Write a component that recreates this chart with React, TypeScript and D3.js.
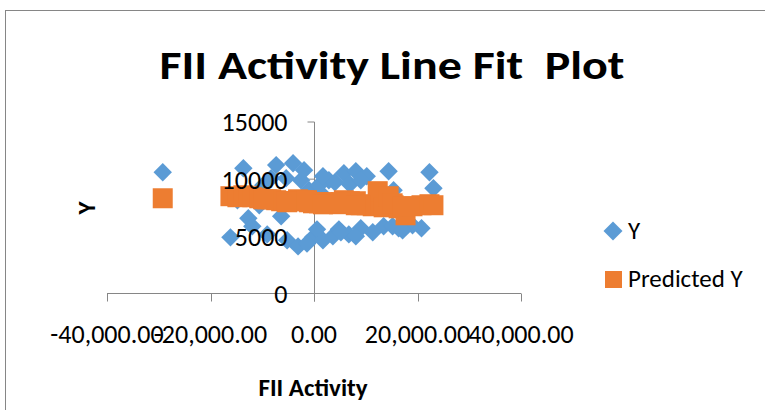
import { useEffect, useRef } from "react";
import * as d3 from "d3";

// FII activity (x) per observation
const FII = [
  -29230, -16150, -14800, -13650, -12690, -11920, -10580, -9040, -7310, -6350,
  -5190, -4040, -3080, -1920, -960, -190, 580, 1730, 2880, 3650,
  4810, 5770, 6730, 8080, 9040, 10190, 11350, 12310, 13460, 14420,
  15380, 16350, 17690, 19040, 20770, 22310, 23080, -8270, -2500, 960,
  -9810, -5380, 1730, 4040, 6920, 9040, -1350, 1730, 5190, 8080,
  15190, 17120,
];

// observed Y
const Y_VALUES = [
  10610, 4910, 8160, 10960, 6580, 5880, 7720, 5170, 11230, 6750,
  4650, 11400, 4120, 10790, 9030, 4910, 5610, 8600, 9910, 5000,
  5610, 10520, 5170, 10700, 5700, 10260, 5350, 8420, 5880, 10700,
  9030, 5700, 7100, 5960, 5700, 10610, 9210, 10090, 9910, 9470,
  9470, 10090, 10260, 9730, 9560, 9910, 4380, 4650, 5350, 5000,
  5880, 5520,
];

// predicted Y from the fit
const PREDICTED = [
  8330, 8510, 8420, 8590, 8510, 8420, 8330, 8240, 8160, 8070,
  7980, 8070, 8240, 8160, 7980, 7890, 7980, 7890, 7980, 7890,
  7810, 8160, 7980, 8070, 7810, 7720, 7630, 8950, 7540, 8510,
  7720, 7450, 6840, 7630, 7720, 7810, 7720, 8240, 8070, 7890,
  8240, 8070, 7980, 7890, 8070, 7720, 8160, 7800, 7980, 7720,
  7890, 7630,
];

const X_TICKS = [-40000, -20000, 0, 20000, 40000];
const Y_TICKS = [0, 5000, 10000, 15000];

const BLUE = "#5B9BD5";
const ORANGE = "#ED7D31";
const AXIS = "#868686";
const FONT = "Carlito, Lato, sans-serif";

const App = () => {
  const svgRef = useRef<SVGSVGElement>(null);

  useEffect(() => {
    if (!svgRef.current) return;
    const width = 765;
    const height = 410;

    const svg = d3.select(svgRef.current);
    svg.selectAll("*").remove();

    svg.append("rect").attr("width", width).attr("height", height).attr("fill", "#fff");

    // moldura do gráfico
    svg.append("rect")
      .attr("x", 5.5).attr("y", 10.5)
      .attr("width", 800).attr("height", 450)
      .attr("fill", "none").attr("stroke", AXIS).attr("stroke-width", 1);

    const xScale = d3.scaleLinear().domain([-40000, 40000]).range([107, 521]);
    const yScale = d3.scaleLinear().domain([0, 15000]).range([293.5, 122]);

    // título
    svg.append("text")
      .attr("x", 392).attr("y", 79)
      .attr("text-anchor", "middle")
      .style("font-family", FONT).style("font-size", "41px").style("font-weight", "700")
      .style("white-space", "pre")
      .attr("textLength", 465).attr("lengthAdjust", "spacingAndGlyphs")
      .text("FII Activity Line Fit  Plot");

    const g = svg.append("g");

    // eixo X
    g.append("line")
      .attr("x1", xScale(-40000)).attr("x2", xScale(40000))
      .attr("y1", yScale(0)).attr("y2", yScale(0))
      .attr("stroke", AXIS);
    g.selectAll(".xt").data(X_TICKS).enter().append("line")
      .attr("x1", (d) => Math.round(xScale(d)) + 0.5).attr("x2", (d) => Math.round(xScale(d)) + 0.5)
      .attr("y1", yScale(0)).attr("y2", yScale(0) + 8)
      .attr("stroke", AXIS);

    // eixo Y
    const x0 = Math.round(xScale(0)) + 0.5;
    g.append("line")
      .attr("x1", x0).attr("x2", x0)
      .attr("y1", yScale(0) + 8).attr("y2", yScale(15000))
      .attr("stroke", AXIS);
    g.selectAll(".yt").data(Y_TICKS).enter().append("line")
      .attr("x1", x0 - 7).attr("x2", x0)
      .attr("y1", (d) => yScale(d)).attr("y2", (d) => yScale(d))
      .attr("stroke", AXIS);

    const diamond = d3.symbol().type(d3.symbolSquare).size(170)();
    const square = d3.symbol().type(d3.symbolSquare).size(400)();

    // série Y
    g.selectAll(".y").data(FII).enter().append("path")
      .attr("d", diamond)
      .attr("transform", (d, i) => `translate(${xScale(d)},${yScale(Y_VALUES[i])}) rotate(45)`)
      .attr("fill", BLUE);

    // série Predicted Y
    g.selectAll(".p").data(FII).enter().append("path")
      .attr("d", square)
      .attr("transform", (d, i) => `translate(${xScale(d)},${yScale(PREDICTED[i])})`)
      .attr("fill", ORANGE);

    // rótulos dos eixos
    g.selectAll(".yl").data(Y_TICKS).enter().append("text")
      .attr("x", x0 - 27).attr("y", (d) => yScale(d))
      .attr("dy", "0.36em")
      .attr("text-anchor", "end")
      .style("font-family", FONT).style("font-size", "26px")
      .text((d) => String(d));

    const fmt = d3.format(",.2f");
    g.selectAll(".xl").data(X_TICKS).enter().append("text")
      .attr("x", (d) => xScale(d)).attr("y", 343)
      .attr("text-anchor", "middle")
      .style("font-family", FONT).style("font-size", "26px")
      .text((d) => fmt(d).replace("−", "-"));

    svg.append("text")
      .attr("x", 313).attr("y", 396)
      .attr("text-anchor", "middle")
      .style("font-family", FONT).style("font-size", "25px").style("font-weight", "700")
      .text("FII Activity");

    svg.append("text")
      .attr("transform", "translate(95,208) rotate(-90)")
      .attr("text-anchor", "middle")
      .style("font-family", FONT).style("font-size", "25px").style("font-weight", "700")
      .text("Y");

    // legenda
    const leg = svg.append("g");
    leg.append("path")
      .attr("d", d3.symbol().type(d3.symbolSquare).size(180)())
      .attr("transform", "translate(613,231) rotate(45)")
      .attr("fill", BLUE);
    leg.append("text")
      .attr("x", 628).attr("y", 239)
      .style("font-family", FONT).style("font-size", "25px")
      .text("Y");
    leg.append("rect")
      .attr("x", 605).attr("y", 271).attr("width", 17).attr("height", 17)
      .attr("fill", ORANGE);
    leg.append("text")
      .attr("x", 628).attr("y", 287)
      .style("font-family", FONT).style("font-size", "25px")
      .text("Predicted Y");
  }, []);

  return (
    <svg
      ref={svgRef}
      width={765}
      height={410}
      style={{ position: "absolute", left: 0, top: 0 }}
    />
  );
};

export default App;
